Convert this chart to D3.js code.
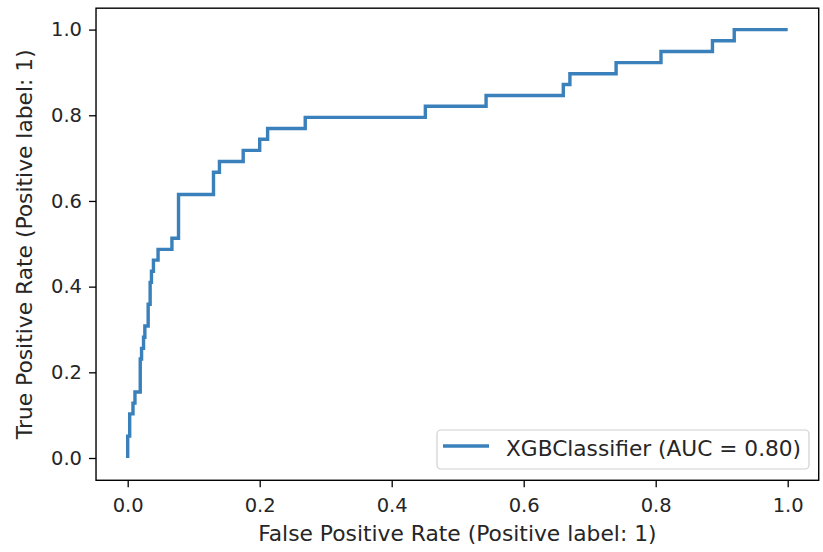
<!DOCTYPE html>
<html lang="en">
<head>
<meta charset="UTF-8">
<title>ROC</title>
<style>
  body { margin: 0; background: #fff; }
  text { font-family: "DejaVu Sans", sans-serif; fill: #262626; }
</style>
</head>
<body>
<div id="chart"></div>
<script src="https://cdn.jsdelivr.net/npm/d3@7"></script>
<script>
// ROC curve corner points
let fpr = [0, 0, 0.003, 0.003, 0.008, 0.008, 0.011, 0.011, 0.019, 0.019, 0.021, 0.021, 0.024, 0.024, 0.026, 0.026,
  0.031, 0.031, 0.034, 0.034, 0.036, 0.036, 0.039, 0.039, 0.046, 0.046, 0.067, 0.067, 0.077, 0.077,
  0.13, 0.13, 0.139, 0.139, 0.175, 0.175, 0.2, 0.2, 0.212, 0.212, 0.269, 0.269, 0.451, 0.451,
  0.543, 0.543, 0.66, 0.66, 0.67, 0.67, 0.74, 0.74, 0.808, 0.808, 0.886, 0.886, 0.919, 0.919, 1]
let tpr = [0, 0.051, 0.051, 0.103, 0.103, 0.128, 0.128, 0.154, 0.154, 0.231, 0.231, 0.256, 0.256, 0.282, 0.282, 0.308,
  0.308, 0.359, 0.359, 0.41, 0.41, 0.436, 0.436, 0.462, 0.462, 0.487, 0.487, 0.513, 0.513, 0.615,
  0.615, 0.667, 0.667, 0.692, 0.692, 0.718, 0.718, 0.744, 0.744, 0.769, 0.769, 0.795, 0.795, 0.821,
  0.821, 0.846, 0.846, 0.872, 0.872, 0.897, 0.897, 0.923, 0.923, 0.949, 0.949, 0.974, 0.974, 1, 1]
let ticks = [0, 0.2, 0.4, 0.6, 0.8, 1.0]
let seriesName = 'XGBClassifier (AUC = 0.80)'
let xtitle = 'False Positive Rate (Positive label: 1)'
let ytitle = 'True Positive Rate (Positive label: 1)'

let width = 823
let height = 552
let lineColor = '#3a80bb'

let svg = d3.select('#chart').append('svg').attr('width', width).attr('height', height)

// scales: 0 and 1 positions measured on the picture
let x = d3.scaleLinear().domain([0, 1]).range([127.7, 787.7])
let y = d3.scaleLinear().domain([0, 1]).range([458, 29.6])
let x0 = x(-0.048), x1 = x(1.047)
let y0 = y(-0.052), y1 = y(1.05)

// x axis
let xAxis = d3.axisBottom(x).tickValues(ticks).tickFormat(d3.format('.1f')).tickSize(7).tickPadding(11)
let gx = svg.append('g').attr('transform', 'translate(0,' + y0 + ')').call(xAxis)
gx.select('.domain').remove()
gx.selectAll('line').attr('stroke', '#000').attr('stroke-width', 1.3)
gx.selectAll('text').attr('font-size', 19.5).style('font-family', '"DejaVu Sans", sans-serif').attr('fill', '#262626')

// y axis
let yAxis = d3.axisLeft(y).tickValues(ticks).tickFormat(d3.format('.1f')).tickSize(7).tickPadding(7)
let gy = svg.append('g').attr('transform', 'translate(' + x0 + ',0)').call(yAxis)
gy.select('.domain').remove()
gy.selectAll('line').attr('stroke', '#000').attr('stroke-width', 1.3)
gy.selectAll('text').attr('font-size', 19.5).style('font-family', '"DejaVu Sans", sans-serif').attr('fill', '#262626')

// curve
let points = fpr.map((d, i) => [d, tpr[i]])
let line = d3.line().x(d => x(d[0])).y(d => y(d[1]))
svg.append('path').datum(points).attr('d', line)
  .attr('fill', 'none').attr('stroke', lineColor).attr('stroke-width', 3.4)
  .attr('stroke-linejoin', 'miter')

// frame
svg.append('rect').attr('x', x0).attr('y', y1).attr('width', x1 - x0).attr('height', y0 - y1)
  .attr('fill', 'none').attr('stroke', '#000').attr('stroke-width', 1.4)

// axis titles
svg.append('text').text(xtitle).attr('x', (x0 + x1) / 2).attr('y', 541)
  .attr('text-anchor', 'middle').attr('font-size', 21.8)
svg.append('text').text(ytitle)
  .attr('transform', 'translate(32,' + ((y0 + y1) / 2) + ') rotate(-90)')
  .attr('text-anchor', 'middle').attr('font-size', 21.8)

// legend
let lg = svg.append('g')
lg.append('rect').attr('x', 437).attr('y', 430).attr('width', 372).attr('height', 39).attr('rx', 4)
  .attr('fill', '#fff').attr('fill-opacity', 0.8).attr('stroke', '#d0d0d0').attr('stroke-width', 1.2)
lg.append('line').attr('x1', 443).attr('x2', 489).attr('y1', 446).attr('y2', 446)
  .attr('stroke', lineColor).attr('stroke-width', 3.4)
lg.append('text').text(seriesName).attr('x', 506).attr('y', 456).attr('font-size', 21.7)
</script>
</body>
</html>
